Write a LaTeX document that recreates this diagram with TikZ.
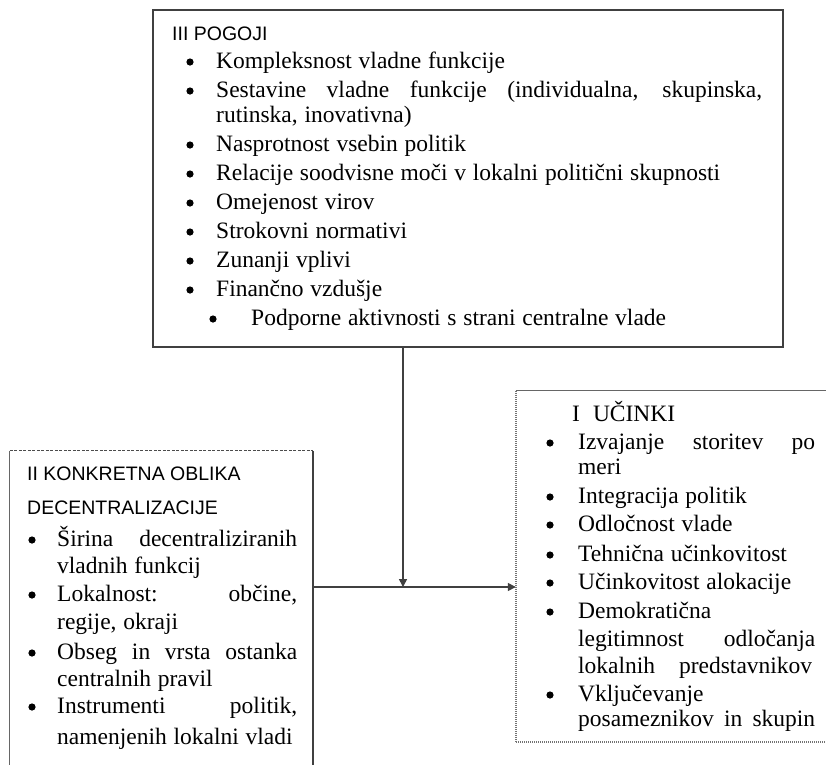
\documentclass[tikz,border=0pt]{standalone}
\usepackage{fontspec}
\setmainfont{Liberation Serif}[WordSpace=1.15]
\setsansfont{Liberation Sans}
\usetikzlibrary{arrows.meta}

% one line of text, left end of its baseline at (x,y)
\newcommand\tline[4]{\node[txt] (#1) at (#2,#3) {#4};}
% a justified line of given width
\newcommand\jline[5]{\node[txt] (#1) at (#2,#3) {\makebox[#4pt][s]{#5}};}
% list bullet centred at (x,y)
\newcommand\blt[2]{\fill (#1,#2) circle (3.6pt);}

\begin{document}
\begin{tikzpicture}[x=1pt,y=-1pt,
  txt/.style={anchor=base west,inner sep=0pt,font=\fontsize{23.5}{26}\selectfont},
  head/.style={anchor=base west,inner sep=0pt,font=\sffamily\fontsize{19.5}{22}\selectfont},
  frame/.style={draw=black!75,line width=1.5pt,inner sep=0pt},
  box/.style={inner sep=0pt},
  link/.style={draw=black!75,line width=1.5pt},
  tip/.style={-{Triangle[length=8pt,width=8pt]}},
]
\useasboundingbox (0,0) rectangle (826,764);
\clip (0,0) rectangle (826,764);
\fill[white] (0,0) rectangle (826,764);

% ---- III: conditions ----
\node[frame,minimum width=630pt,minimum height=337pt] (pogoji) at (468,178.5) {};
\node[head] (t0) at (172,40) {III POGOJI};
\blt{190}{62}  \tline{t1}{216}{68}{Kompleksnost vladne funkcije}
\blt{190}{91}  \jline{t2}{216}{97}{546}{Sestavine vladne funkcije (individualna, skupinska,}
               \tline{t3}{216}{122}{rutinska, inovativna)}
\blt{190}{145} \tline{t4}{216}{151}{Nasprotnost vsebin politik}
\blt{190}{174} \tline{t5}{216}{180}{Relacije soodvisne moči v lokalni politični skupnosti}
\blt{190}{203} \tline{t6}{216}{209}{Omejenost virov}
\blt{190}{232} \tline{t7}{216}{238}{Strokovni normativi}
\blt{190}{261} \tline{t8}{216}{267}{Zunanji vplivi}
\blt{190}{290} \tline{t9}{216}{296}{Finančno vzdušje}
\blt{213}{319} \tline{t10}{251}{325}{Podporne aktivnosti s strani centralne vlade}

% ---- II: form of decentralisation ----
\node[box,minimum width=303pt,minimum height=349pt] (oblika) at (161.5,625.5) {};
\draw[black!70,line width=1.2pt,dash pattern=on 3pt off 1.5pt] (oblika.north west) -- (oblika.north east);
\draw[black!60,line width=1.2pt] (oblika.north west) -- (oblika.south west);
\draw[black!75,line width=1.5pt] (oblika.north east) -- (oblika.south east);
\node[head] (l0) at (27,480) {II KONKRETNA OBLIKA};
\node[head] (l1) at (27,514) {DECENTRALIZACIJE};
\blt{32}{540} \jline{l2}{57}{546}{240}{Širina decentraliziranih}
              \tline{l3}{57}{573}{vladnih funkcij}
\blt{32}{595} \jline{l4}{57}{601}{240}{Lokalnost: občine,}
              \tline{l5}{57}{629}{regije, okraji}
\blt{32}{653} \jline{l6}{57}{659}{240}{Obseg in vrsta ostanka}
              \tline{l7}{57}{686}{centralnih pravil}
\blt{32}{707} \jline{l8}{57}{713}{240}{Instrumenti politik,}
              \tline{l9}{57}{744}{namenjenih lokalni vladi}

% ---- I: effects ----
\node[box,minimum width=344pt,minimum height=351pt] (ucinki) at (688,566.5) {};
\draw[black!60,line width=1.2pt] (ucinki.north west) -- (ucinki.north east);
\draw[black!55,line width=1.5pt,dash pattern=on 1pt off 1pt] (ucinki.north west) -- (ucinki.south west) -- (ucinki.south east);
\node[txt] (r0) at (572,421) {I\hspace{13pt}UČINKI};
\blt{550}{443} \jline{r1}{578}{449}{237}{Izvajanje storitev po}
               \tline{r2}{578}{474}{meri}
\blt{550}{497} \tline{r3}{578}{503}{Integracija politik}
\blt{550}{525} \tline{r4}{578}{531}{Odločnost vlade}
\blt{550}{555} \tline{r5}{578}{561}{Tehnična učinkovitost}
\blt{550}{583} \tline{r6}{578}{589}{Učinkovitost alokacije}
\blt{550}{612} \tline{r7}{578}{618}{Demokratična}
               \jline{r8}{578}{646}{237}{legitimnost odločanja}
               \jline{r9}{578}{673}{234}{lokalnih predstavnikov}
\blt{550}{695} \tline{r10}{578}{701}{Vključevanje}
               \jline{r11}{578}{726}{237}{posameznikov in skupin}

% ---- connectors ----
\coordinate (j) at (403,587);
\draw[link,tip] (pogoji.south -| j) -- (j);
\draw[link,tip] (oblika.east |- j) -- (ucinki.west |- j);
\end{tikzpicture}
\end{document}
